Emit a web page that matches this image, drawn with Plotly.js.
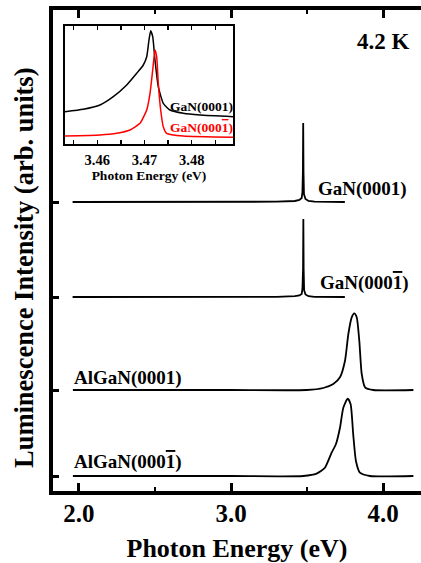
<!DOCTYPE html>
<html>
<head>
<meta charset="utf-8">
<script src="https://cdn.plot.ly/plotly-3.0.1.min.js"></script>
<style>html,body{margin:0;padding:0;background:#fff;}#chart{width:421px;height:563px;}</style>
</head>
<body>
<div id="chart"></div>
<script>
// ---- Main panel data (photon energy in eV, intensity in arb. units) ----
const ganA_E = [1.958, 2.5, 3.0, 3.3, 3.42, 3.45, 3.465, 3.47, 3.473, 3.475, 3.477, 3.48, 3.49, 3.51, 3.55, 3.749];
const ganA_I = [0, 0, 0, 0.3, 1, 2, 4, 10, 30, 79, 30, 8, 3, 1, 0.3, 0];
const ganB_E = [1.958, 2.5, 3.0, 3.3, 3.42, 3.45, 3.465, 3.47, 3.474, 3.476, 3.478, 3.481, 3.49, 3.51, 3.55, 3.749];
const ganB_I = [0, 0, 0, 0.2, 0.8, 1.5, 3, 8, 28, 78, 28, 7, 2.5, 0.8, 0.2, 0];
const alA_E = [1.960, 2.5, 3.0, 3.497, 3.607, 3.673, 3.717, 3.750, 3.772, 3.794, 3.811, 3.827, 3.844, 3.860, 3.882, 3.936, 4.200];
const alA_I = [0, 0, 0, 0, 2, 6, 12.7, 29.3, 56, 72.7, 76.7, 72.7, 49.3, 16, 2.7, 0, 0];
const alB_E = [1.960, 2.5, 3.0, 3.475, 3.563, 3.618, 3.662, 3.690, 3.717, 3.739, 3.768, 3.787, 3.804, 3.822, 3.848, 3.914, 4.200];
const alB_I = [0, 0, 0, 0, 2.3, 8.3, 23.3, 31.7, 48.3, 68.3, 77.3, 71.7, 41.7, 15, 3.3, 0, 0];
// vertical offsets of the four stacked spectra (arb. units)
const offsets = {ganA: 289, ganB: 194, alA: 101, alB: 15};
const OV = '<span style="text-decoration:overline">1</span>';
const seriesLabels = ["GaN(0001)", "GaN(000" + OV + ")", "AlGaN(0001)", "AlGaN(000" + OV + ")"];
const xTickVals = [2, 3, 4];
const xTickText = ["2.0", "3.0", "4.0"];

// ---- Inset data ----
const insBlack_E = [3.45316, 3.45703, 3.46057, 3.46339, 3.46623, 3.46835, 3.46975, 3.47047, 3.47095, 3.47131, 3.47174, 3.47222, 3.47292, 3.47398, 3.47540, 3.47822, 3.48176, 3.48881];
const insBlack_I = [32.3, 34.7, 39, 47.3, 59, 70.7, 79, 87.3, 104, 113.3, 107.3, 84, 57.3, 40.7, 34, 30.7, 29, 27.3];
const insRed_E = [3.45316, 3.46057, 3.46411, 3.46693, 3.46905, 3.47047, 3.47117, 3.47174, 3.47222, 3.47258, 3.47292, 3.47343, 3.47398, 3.47470, 3.47822, 3.48881];
const insRed_I = [8, 9, 10.7, 14, 20.7, 34, 50.7, 74, 94, 87.3, 60.7, 34, 17.3, 10.7, 8, 6.7];
const insTickVals = [3.455, 3.46, 3.465, 3.47, 3.475, 3.48, 3.485];
const insTickText = ["", "3.46", "", "3.47", "", "3.48", ""];

const add = (arr, o) => arr.map(v => v + o);
const FONT = "Liberation Serif, Times New Roman, serif";
const spl = {color: "black", width: 1.8, shape: "spline", smoothing: 0.6};
const lin = {color: "black", width: 1.8};

const traces = [
  {x: ganA_E, y: add(ganA_I, offsets.ganA), mode: "lines", line: lin, xaxis: "x", yaxis: "y", hoverinfo: "skip"},
  {x: ganB_E, y: add(ganB_I, offsets.ganB), mode: "lines", line: lin, xaxis: "x", yaxis: "y", hoverinfo: "skip"},
  {x: alA_E, y: add(alA_I, offsets.alA), mode: "lines", line: spl, xaxis: "x", yaxis: "y", hoverinfo: "skip"},
  {x: alB_E, y: add(alB_I, offsets.alB), mode: "lines", line: spl, xaxis: "x", yaxis: "y", hoverinfo: "skip"},
  {x: insBlack_E, y: insBlack_I, mode: "lines", line: {color: "black", width: 1.5, shape: "spline", smoothing: 0.5}, xaxis: "x3", yaxis: "y3", hoverinfo: "skip"},
  {x: insRed_E, y: insRed_I, mode: "lines", line: {color: "#ff0000", width: 1.5, shape: "spline", smoothing: 0.5}, xaxis: "x3", yaxis: "y3", hoverinfo: "skip"}
];

// pixel -> paper helpers for annotation placement
const L = 53, R = 0, T = 10, B = 72, W = 421, H = 563;
const pw = W - L - R, ph = H - T - B;
const px = v => (v - L) / pw;
const py = v => (H - B - v) / ph;

const offVals = [offsets.alB, offsets.alA, offsets.ganB, offsets.ganA];

const layout = {
  width: W, height: H,
  margin: {l: L, r: R, t: T, b: B, pad: 0},
  paper_bgcolor: "white", plot_bgcolor: "white",
  showlegend: false,
  font: {family: FONT, color: "black"},
  xaxis: {
    domain: [0, 1], range: [1.829, 4.25], showgrid: false, zeroline: false,
    showline: true, linewidth: 4, linecolor: "black", mirror: "ticks",
    ticks: "inside", ticklen: 8, tickwidth: 3, tickcolor: "black",
    tickvals: xTickVals, ticktext: xTickText,
    minor: {tickvals: [2.5, 3.5], ticks: "inside", ticklen: 4, tickwidth: 2, tickcolor: "black", showgrid: false},
    tickfont: {family: FONT, size: 25, weight: "bold"},
    ticklabelstandoff: -3,
    title: {text: "Photon Energy (eV)", font: {family: FONT, size: 26, weight: "bold"}, standoff: 14}
  },
  yaxis: {
    domain: [0, 1], range: [0, 481], showgrid: false, zeroline: false,
    showline: true, linewidth: 4, linecolor: "black", mirror: false,
    ticks: "inside", ticklen: 6, tickwidth: 3, tickcolor: "black",
    tickvals: offVals, showticklabels: false
  },
  yaxis2: {
    overlaying: "y", side: "right", range: [0, 481], showgrid: false, zeroline: false,
    showline: false, ticks: "inside", ticklen: 2, tickwidth: 3, tickcolor: "black",
    tickvals: offVals, showticklabels: false
  },
  xaxis3: {
    domain: [px(65), px(233)], anchor: "y3", range: [3.45316, 3.48875],
    showgrid: false, zeroline: false, showline: true, linewidth: 2, linecolor: "black", mirror: "ticks",
    ticks: "inside", ticklen: 4, tickwidth: 1.5, tickcolor: "black",
    tickvals: insTickVals, ticktext: insTickText,
    tickfont: {family: FONT, size: 14.5, weight: "bold"}, ticklabelstandoff: 2,
    title: {text: "Photon Energy (eV)", font: {family: FONT, size: 13.5, weight: "bold"}, standoff: 2}
  },
  yaxis3: {
    domain: [py(144), py(26)], anchor: "x3", range: [0, 118],
    showgrid: false, zeroline: false, showline: true, linewidth: 2, linecolor: "black", mirror: true,
    ticks: "", showticklabels: false
  },
  annotations: [
    {text: "Luminescence Intensity (arb. units)", textangle: -90, xref: "paper", yref: "paper", x: px(24), y: py(268), showarrow: false, xanchor: "center", yanchor: "middle", font: {family: FONT, size: 26.5, weight: "bold"}},
    {text: "4.2 K", xref: "paper", yref: "paper", x: px(383.5), y: py(41.5), showarrow: false, xanchor: "center", yanchor: "middle", font: {family: FONT, size: 23, weight: "bold"}},
    {text: seriesLabels[0], xref: "paper", yref: "paper", x: px(362), y: py(189), showarrow: false, xanchor: "center", yanchor: "middle", font: {family: FONT, size: 19, weight: "bold"}},
    {text: seriesLabels[1], xref: "paper", yref: "paper", x: px(364), y: py(283), showarrow: false, xanchor: "center", yanchor: "middle", font: {family: FONT, size: 19, weight: "bold"}},
    {text: seriesLabels[2], xref: "paper", yref: "paper", x: px(128), y: py(378), showarrow: false, xanchor: "center", yanchor: "middle", font: {family: FONT, size: 19, weight: "bold"}},
    {text: seriesLabels[3], xref: "paper", yref: "paper", x: px(128), y: py(462), showarrow: false, xanchor: "center", yanchor: "middle", font: {family: FONT, size: 19, weight: "bold"}},
    {text: seriesLabels[0], xref: "paper", yref: "paper", x: px(201.7), y: py(106.7), showarrow: false, xanchor: "center", yanchor: "middle", font: {family: FONT, size: 13.5, weight: "bold", color: "black"}},
    {text: seriesLabels[1], xref: "paper", yref: "paper", x: px(201.7), y: py(127.7), showarrow: false, xanchor: "center", yanchor: "middle", font: {family: FONT, size: 13.5, weight: "bold", color: "#ff0000"}}
  ]
};

Plotly.newPlot("chart", traces, layout, {staticPlot: true, displayModeBar: false});
</script>
</body>
</html>
